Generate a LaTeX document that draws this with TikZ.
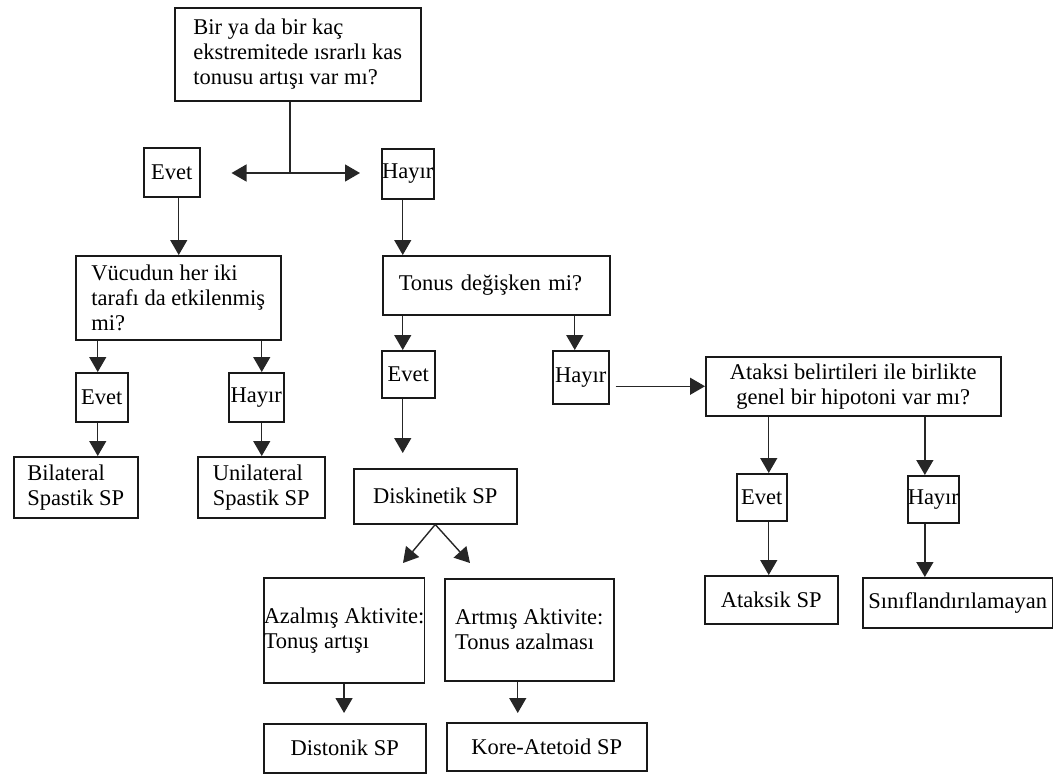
\documentclass[tikz,border=0pt]{standalone}
\usepackage{fontspec}
\setmainfont{Liberation Serif}
\usetikzlibrary{arrows.meta}
\tikzset{
  box/.style={draw=black!90, line width=1.5pt, inner sep=0pt, anchor=north west, align=left,
    font=\fontsize{22.5}{25}\selectfont, text=black},
  arr/.style={draw=black!85, line width=1.4pt, -{Triangle[length=15pt,width=17pt]}},
  ln/.style={draw=black!85, line width=1.4pt}
}
\begin{document}
\begin{tikzpicture}[x=1pt,y=-1pt]
\useasboundingbox (0,0) rectangle (1053,774);
% boxes
\node[box, minimum width=246, minimum height=93] (q1) at (174,7) {Bir ya da bir kaç\\ekstremitede ısrarlı kas\\tonusu artışı var mı?};
\node[box, minimum width=56, minimum height=49] (e1) at (143,147) {Evet};
\node[box, minimum width=52, minimum height=50] (h1) at (381,148) {Hayır};
\node[box, minimum width=205, minimum height=84] (v) at (75,255) {Vücudun her iki\\tarafı da etkilenmiş\\mi?};
\node[box, text width=195, inner xsep=16, minimum height=59] (t) at (382,255) {Tonus değişken mi?};
\node[box, minimum width=52, minimum height=49] (e2) at (75,372) {Evet};
\node[box, minimum width=55, minimum height=49] (h2) at (228,372) {Hayır};
\node[box, minimum width=124, minimum height=61] (bil) at (13,456) {Bilateral\\Spastik SP};
\node[box, minimum width=127, minimum height=61] (uni) at (197,456) {Unilateral\\Spastik SP};
\node[box, minimum width=53, minimum height=47] (e3) at (381,350) {Evet};
\node[box, minimum width=56, minimum height=53] (h3) at (552,350) {Hayır};
\node[box, minimum width=163, minimum height=55] (dis) at (353,468) {Diskinetik SP};
\node[box, align=center, minimum width=295, minimum height=59] (ata) at (705,356) {Ataksi belirtileri ile birlikte\\genel bir hipotoni var mı?};
\node[box, minimum width=50, minimum height=47] (e4) at (736,473) {Evet};
\node[box, minimum width=51, minimum height=47] (h4) at (907,475) {Hayır};
\node[box, minimum width=133, minimum height=48] (atk) at (704,575) {Ataksik SP};
\node[box, minimum width=190, minimum height=50] (sin) at (862,577) {Sınıflandırılamayan};
\node[box, minimum width=160, minimum height=105] (az) at (263,577) {Azalmış Aktivite:\\Tonuş artışı};
\node[box, minimum width=169, minimum height=102] (ar) at (444,578) {Artmış Aktivite:\\Tonus azalması};
\node[box, align=center, minimum width=162, minimum height=49] (dist) at (263,723) {Distonik SP};
\node[box, align=center, minimum width=200, minimum height=48] (kore) at (446,722) {Kore-Atetoid SP};
% helper coordinates
\coordinate (j) at (290,173);
\coordinate (azt) at (403,563);
\coordinate (art) at (470,563);
% connectors
\draw[ln] (q1.south -| j) -- (j);
\draw[arr, shorten >=31pt] (j) -- (e1.east |- j);
\draw[arr, shorten >=21pt] (j) -- (h1.west |- j);
\draw[arr] ([xshift=7pt]e1.south) -- ([xshift=7pt]e1.south |- v.north);
\draw[arr] ([xshift=-5pt]h1.south) -- ([xshift=-5pt]h1.south |- t.north);
\draw[arr] ([xshift=-4pt]e2.north |- v.south) -- ([xshift=-4pt]e2.north);
\draw[arr] ([xshift=-4pt]e2.south) -- ([xshift=-4pt]e2.south |- bil.north);
\draw[arr] ([xshift=5.5pt]h2.north |- v.south) -- ([xshift=5.5pt]h2.north);
\draw[arr] ([xshift=5.5pt]h2.south) -- ([xshift=5.5pt]h2.south |- uni.north);
\draw[arr] ([xshift=-5.5pt]e3.north |- t.south) -- ([xshift=-5.5pt]e3.north);
\draw[arr, shorten >=15pt] ([xshift=-5.5pt]e3.south) -- ([xshift=-5.5pt]e3.south |- dis.north);
\draw[arr] ([xshift=-6pt]h3.north |- t.south) -- ([xshift=-6pt]h3.north);
\draw[arr, shorten <=6pt] (h3.east |- ata.west) -- (ata.west);
\draw[arr] ([xshift=7pt]e4.north |- ata.south) -- ([xshift=7pt]e4.north);
\draw[arr] ([xshift=7pt]e4.south) -- ([xshift=7pt]e4.south |- atk.north);
\draw[arr] ([xshift=-8.5pt]h4.north |- ata.south) -- ([xshift=-8.5pt]h4.north);
\draw[arr] ([xshift=-8.5pt]h4.south) -- ([xshift=-8.5pt]h4.south |- sin.north);
\draw[arr] (dis.south) -- (azt);
\draw[arr] (dis.south) -- (art);
\draw[arr, shorten >=10pt] (az.south) -- (az.south |- dist.north);
\draw[arr, shorten >=9pt] ([xshift=-11.5pt]ar.south) -- ([xshift=-11.5pt]ar.south |- kore.north);
\end{tikzpicture}
\end{document}
